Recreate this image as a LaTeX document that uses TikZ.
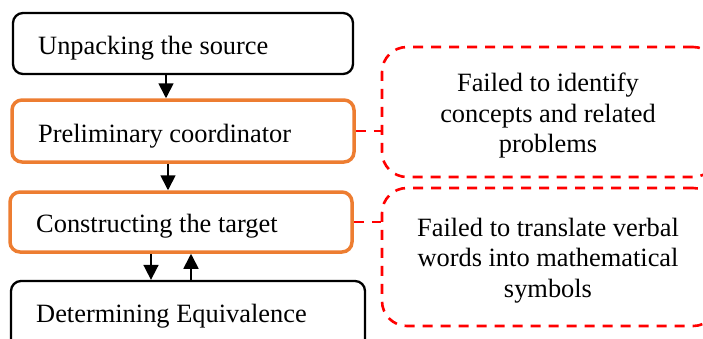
\documentclass[tikz,border=0pt]{standalone}
\usepackage{fontspec}
\setmainfont{Liberation Serif}
\usetikzlibrary{arrows.meta}
\definecolor{stageorange}{HTML}{ED7D31}
\definecolor{errred}{HTML}{FF0000}
\begin{document}
\begin{tikzpicture}[x=1pt,y=-1pt,
  stagebox/.style={draw=black, line width=2.3pt, rounded corners=10pt, rectangle, inner sep=0pt},
  keybox/.style={draw=stageorange, line width=3.5pt, rounded corners=10pt, rectangle, inner sep=0pt},
  errbox/.style={draw=errred, line width=2.6pt, dash pattern=on 10pt off 8pt, rounded corners=25pt, rectangle, inner sep=0pt},
  lbl/.style={inner sep=0pt, font=\fontsize{26.4}{30.5}\selectfont},
  errlbl/.style={lbl, align=center},
  arr/.style={line width=1.7pt, -{Triangle[length=15pt,width=15pt]}},
  errlink/.style={draw=errred, line width=2.6pt, dash pattern=on 10pt off 8pt}]
\useasboundingbox (0,0) rectangle (703,338);
\clip (0,0) rectangle (703,338);

% process stages
\node[stagebox, minimum width=340pt, minimum height=61pt] (b1) at (183,43.5) {};
\node[keybox, minimum width=342pt, minimum height=62pt] (b2) at (183,131) {};
\node[keybox, minimum width=342pt, minimum height=60pt] (b3) at (181,222) {};
\node[stagebox, minimum width=354pt, minimum height=71pt] (b4) at (188,316.5) {};

\node[lbl, anchor=base west] (t1) at (38,54) {Unpacking the source};
\node[lbl, anchor=base west] (t2) at (38,142) {Preliminary coordinator};
\node[lbl, anchor=base west] (t3) at (36,232) {Constructing the target};
\node[lbl, anchor=base west] (t4) at (36,322) {Determining Equivalence};

% difficulties
\node[errbox, minimum width=336pt, minimum height=130pt] (ea) at (550,112) {};
\node[errbox, minimum width=336pt, minimum height=138pt] (eb) at (550,257) {};

\node[errlbl] (ta) at (548,115.9) {Failed to identify\\concepts and related\\problems};
\node[errlbl] (tb) at (548,260.5) {Failed to translate verbal\\words into mathematical\\symbols};

% flow between stages
\draw[arr] (166,0 |- b1.south) -- (166,0 |- b2.north);
\draw[arr] (168,0 |- b2.south) -- (168,0 |- b3.north);
\draw[arr] (151,0 |- b3.south) -- (151,0 |- b4.north);
\draw[arr] (191,0 |- b4.north) -- (191,0 |- b3.south);

% links to difficulties
\draw[errlink] (b2.east) -- (b2.east -| ea.west);
\draw[errlink] (b3.east) -- (b3.east -| eb.west);
\end{tikzpicture}
\end{document}
